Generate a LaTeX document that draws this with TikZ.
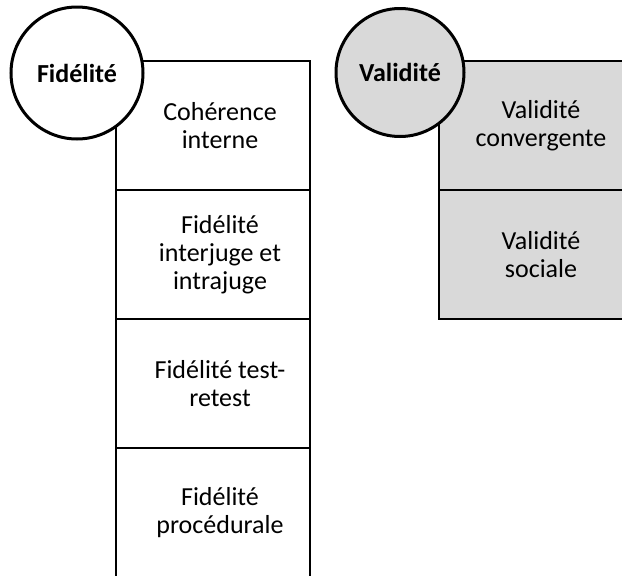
\documentclass[tikz,border=0pt]{standalone}
\usepackage{fontspec}
\setmainfont{Carlito}
\usetikzlibrary{positioning}

\definecolor{PanelGrey}{RGB}{217,217,217}

\begin{document}
\begin{tikzpicture}[x=1pt, y=-1pt,
    item/.style={draw, line width=2.7pt, minimum width=194pt, minimum height=129pt, inner sep=0pt, outer sep=0pt},
    itemtext/.style={align=center, xshift=7pt, font=\fontsize{26}{28}\selectfont},
    heading/.style={circle, draw, line width=3pt, fill=white, inner sep=0pt, font=\fontsize{26}{28}\selectfont\bfseries}]
    \useasboundingbox (0,0) rectangle (622,576);
    \clip (0,0) rectangle (622,576);

    % Fidelite column
    \node[item] (coh) at (213,125.5) {};
    \node[item, below=0pt of coh] (inter) {};
    \node[item, below=0pt of inter] (retest) {};
    \node[item, below=0pt of retest, minimum height=134pt] (proc) {};
    \node[itemtext] at (coh) {Cohérence\\interne};
    \node[itemtext] at (inter) {Fidélité\\interjuge et\\intrajuge};
    \node[itemtext] at (retest) {Fidélité test-\\retest};
    \node[itemtext, yshift=2pt] at (proc) {Fidélité\\procédurale};

    % Validite column
    \node[item, fill=PanelGrey, minimum width=190pt] (conv) at (534,125.5) {};
    \node[item, fill=PanelGrey, minimum width=190pt, below=0pt of conv] (soc) {};
    \node[itemtext] at (conv) {Validité\\convergente};
    \node[itemtext] at (soc) {Validité\\sociale};

    % Headings
    \node[heading, minimum size=132pt] (fid) at (77,73) {Fidélité};
    \node[heading, minimum size=128pt, fill=PanelGrey] (val) at (400,72.5) {Validité};
\end{tikzpicture}
\end{document}
